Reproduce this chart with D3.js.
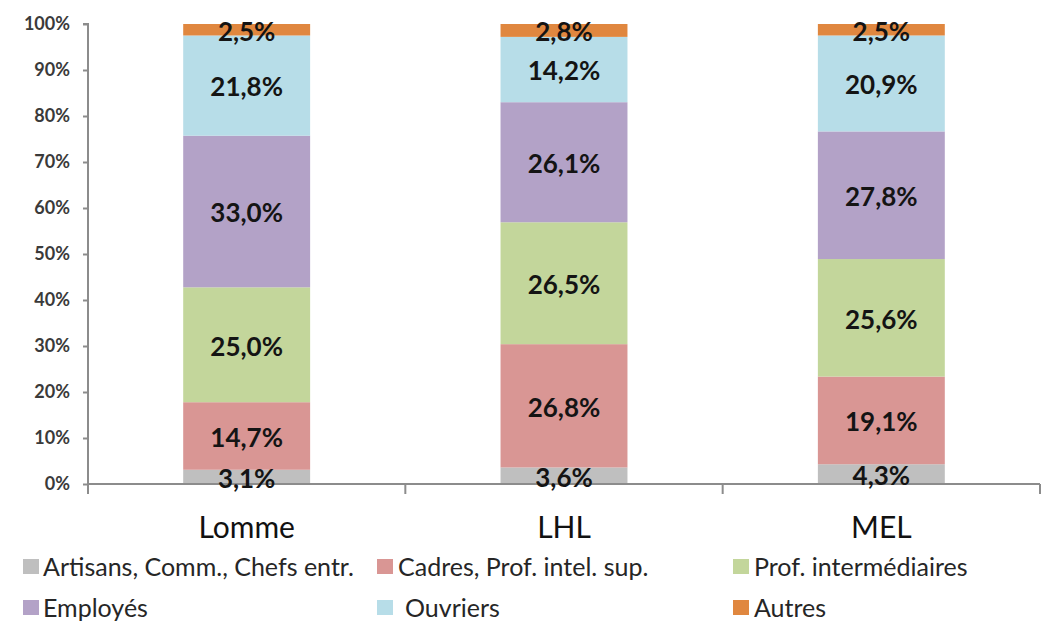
<!DOCTYPE html>
<html>
<head>
<meta charset="utf-8">
<script src="https://cdn.jsdelivr.net/npm/d3@7"></script>
<style>
  html, body { margin: 0; padding: 0; background: #ffffff; }
  svg { display: block; font-family: Lato, "Open Sans", sans-serif; }
</style>
</head>
<body>
<svg id="chart" width="1041" height="624"></svg>
<script>
// Socio-professional categories, share of population (%) per territory
const territories = ["Lomme", "LHL", "MEL"];
const groups = [
  "Artisans, Comm., Chefs entr.",
  "Cadres, Prof. intel. sup.",
  "Prof. intermédiaires",
  "Employés",
  "Ouvriers",
  "Autres"
];
const artisans       = [3.1, 3.6, 4.3];
const cadres         = [14.7, 26.8, 19.1];
const intermediaires = [25.0, 26.5, 25.6];
const employes       = [33.0, 26.1, 27.8];
const ouvriers       = [21.8, 14.2, 20.9];
const autres         = [2.5, 2.8, 2.5];
const yTicks = [0, 10, 20, 30, 40, 50, 60, 70, 80, 90, 100];
const colors = ["#bfbfbf", "#d99694", "#c3d69b", "#b3a2c7", "#b7dde8", "#e0873f"];

const seriesValues = [artisans, cadres, intermediaires, employes, ouvriers, autres];
const rows = territories.map((t, i) => {
  const r = { territory: t };
  groups.forEach((g, k) => { r[g] = seriesValues[k][i]; });
  return r;
});

const svg = d3.select("#chart");
const x0 = 88, x1 = 1040, yTop = 24, yBottom = 484;

const x = d3.scaleBand().domain(territories).range([x0, x1])
  .paddingInner(0.6).paddingOuter(0.3);
const y = d3.scaleLinear().domain([0, 100]).range([yBottom, yTop]);

const stack = d3.stack().keys(groups).offset(d3.stackOffsetExpand);
const layers = stack(rows);

// stacked bars (100% stacked)
const layerG = svg.append("g").selectAll("g").data(layers).join("g")
  .attr("fill", (d, i) => colors[i]);
layerG.selectAll("rect").data(d => d).join("rect")
  .attr("x", d => x(d.data.territory))
  .attr("width", x.bandwidth())
  .attr("y", d => y(d[1] * 100))
  .attr("height", d => y(d[0] * 100) - y(d[1] * 100));

// y axis
const yAxis = d3.axisLeft(y).tickValues(yTicks).tickSize(5).tickPadding(13)
  .tickFormat(d => d + "%");
const gy = svg.append("g").attr("transform", `translate(${x0},0)`).call(yAxis);
gy.select(".domain").attr("stroke", "#8c8c8c").attr("stroke-width", 2)
  .attr("d", `M-5,${yTop}H0V${yBottom + 10}`);
gy.selectAll(".tick line").attr("stroke", "#8c8c8c").attr("stroke-width", 2);
gy.selectAll(".tick text")
  .attr("fill", "#3a3a3a")
  .style("font-size", "18px")
  .style("font-weight", "700")
  .style("font-family", "Lato, sans-serif");

// x axis with category separators
const gx = svg.append("g");
gx.append("line").attr("x1", x0).attr("x2", x1).attr("y1", yBottom).attr("y2", yBottom)
  .attr("stroke", "#8c8c8c").attr("stroke-width", 2);
const seps = d3.range(territories.length + 1).map(i => x0 + i * (x1 - x0) / territories.length);
gx.selectAll("line.sep").data(seps).join("line").attr("class", "sep")
  .attr("x1", d => d).attr("x2", d => d)
  .attr("y1", yBottom).attr("y2", yBottom + 10)
  .attr("stroke", "#8c8c8c").attr("stroke-width", 2);
gx.selectAll("text.cat").data(territories).join("text").attr("class", "cat")
  .attr("x", d => x(d) + x.bandwidth() / 2)
  .attr("y", 538)
  .attr("text-anchor", "middle")
  .attr("fill", "#111")
  .style("font-size", "30px")
  .text(d => d);

// value labels centred in each segment
const fmt = v => v.toFixed(1).replace(".", ",") + "%";
layers.forEach((layer, k) => {
  svg.append("g").selectAll("text").data(layer).join("text")
    .attr("x", d => x(d.data.territory) + x.bandwidth() / 2)
    .attr("y", d => y((d[0] + d[1]) / 2 * 100))
    .attr("dy", "0.42em")
    .attr("text-anchor", "middle")
    .attr("fill", "#141414")
    .style("font-size", "26px")
    .style("font-weight", "700")
    .text(d => fmt(d.data[groups[k]]));
});

// legend
const legendPos = [
  { sx: 23, tx: 43, y: 567 },
  { sx: 377, tx: 398, y: 567 },
  { sx: 733, tx: 754, y: 567 },
  { sx: 23, tx: 43, y: 608 },
  { sx: 377, tx: 405, y: 608 },
  { sx: 733, tx: 754, y: 608 }
];
const lg = svg.append("g").selectAll("g").data(groups).join("g");
lg.append("rect")
  .attr("x", (d, i) => legendPos[i].sx)
  .attr("y", (d, i) => legendPos[i].y - 8)
  .attr("width", 16).attr("height", 15)
  .attr("fill", (d, i) => colors[i]);
lg.append("text")
  .attr("x", (d, i) => legendPos[i].tx)
  .attr("y", (d, i) => legendPos[i].y)
  .attr("dy", "0.36em")
  .attr("fill", "#262626")
  .style("font-size", "25px")
  .text(d => d);
</script>
</body>
</html>
